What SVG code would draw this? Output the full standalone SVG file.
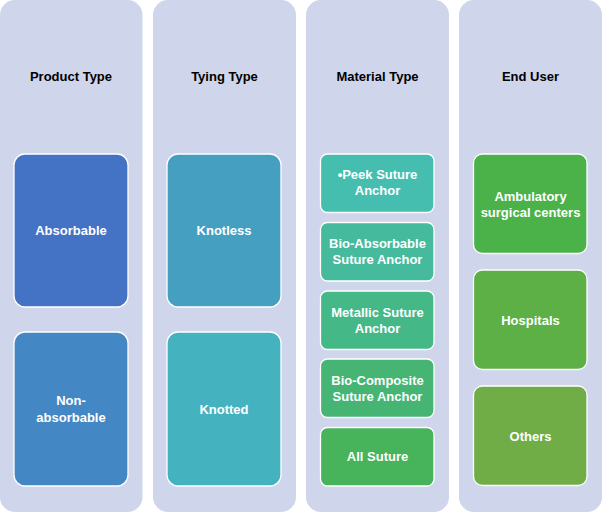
<svg xmlns="http://www.w3.org/2000/svg" width="602" height="512" viewBox="0 0 602 512">
<style>
.col{fill:#CFD5EA}
.box{stroke:#FFFFFF;stroke-width:1.3}
.h{font-family:"Liberation Sans",Arial,sans-serif;font-size:13px;font-weight:bold;fill:#000000;text-anchor:middle}
.t{font-family:"Liberation Sans",Arial,sans-serif;font-size:13px;font-weight:bold;fill:#FFFFFF;text-anchor:middle}
</style>
<rect width="602" height="512" fill="#FFFFFF"/>
<g id="col-product">
<rect class="col" x="0" y="0" width="142.5" height="512" rx="15"/>
<text class="h" x="71" y="81">Product Type</text>
</g>
<g id="col-tying">
<rect class="col" x="153" y="0" width="143" height="512" rx="15"/>
<text class="h" x="224.5" y="81">Tying Type</text>
</g>
<g id="col-material">
<rect class="col" x="306" y="0" width="143" height="512" rx="15"/>
<text class="h" x="377.5" y="81">Material Type</text>
</g>
<g id="col-enduser">
<rect class="col" x="459" y="0" width="143" height="512" rx="15"/>
<text class="h" x="530.5" y="81">End User</text>
</g>
<g id="n-absorbable">
<rect class="box" x="14" y="154" width="114" height="153" rx="11" fill="#4472C4"/>
<text class="t" x="71" y="235">Absorbable</text>
</g>
<g id="n-nonabsorbable">
<rect class="box" x="14" y="332" width="114" height="154" rx="11" fill="#4388C5"/>
<text class="t" x="71" y="405">Non-</text>
<text class="t" x="71" y="422">absorbable</text>
</g>
<g id="n-knotless">
<rect class="box" x="167" y="154" width="114" height="153" rx="11" fill="#459FC1"/>
<text class="t" x="224" y="235">Knotless</text>
</g>
<g id="n-knotted">
<rect class="box" x="167" y="332" width="114" height="154" rx="11" fill="#44B3BF"/>
<text class="t" x="224" y="414">Knotted</text>
</g>
<g id="n-peek">
<rect class="box" x="320.5" y="154" width="113.5" height="58.5" rx="7" fill="#45BEB0"/>
<text class="t" x="377.5" y="179">•Peek Suture</text>
<text class="t" x="377.5" y="195">Anchor</text>
</g>
<g id="n-bioabs">
<rect class="box" x="320.5" y="222.5" width="113.5" height="58.5" rx="7" fill="#45BA9C"/>
<text class="t" x="377.5" y="248">Bio-Absorbable</text>
<text class="t" x="377.5" y="264">Suture Anchor</text>
</g>
<g id="n-metallic">
<rect class="box" x="320.5" y="291" width="113.5" height="58.5" rx="7" fill="#45B888"/>
<text class="t" x="377.5" y="317">Metallic Suture</text>
<text class="t" x="377.5" y="333">Anchor</text>
</g>
<g id="n-biocomp">
<rect class="box" x="320.5" y="359" width="113.5" height="58.5" rx="7" fill="#46B573"/>
<text class="t" x="377.5" y="385">Bio-Composite</text>
<text class="t" x="377.5" y="401">Suture Anchor</text>
</g>
<g id="n-allsuture">
<rect class="box" x="320.5" y="427.5" width="113.5" height="58.5" rx="7" fill="#47B35A"/>
<text class="t" x="377.5" y="461">All Suture</text>
</g>
<g id="n-ambulatory">
<rect class="box" x="473.5" y="154" width="113.5" height="99.5" rx="9" fill="#4BB249"/>
<text class="t" x="530.5" y="201">Ambulatory</text>
<text class="t" x="530.5" y="217">surgical centers</text>
</g>
<g id="n-hospitals">
<rect class="box" x="473.5" y="270" width="113.5" height="99.5" rx="9" fill="#5CB045"/>
<text class="t" x="530.5" y="325">Hospitals</text>
</g>
<g id="n-others">
<rect class="box" x="473.5" y="386" width="113.5" height="99.5" rx="9" fill="#70AD47"/>
<text class="t" x="530.5" y="441">Others</text>
</g>
<g id="connectors"></g>
</svg>
